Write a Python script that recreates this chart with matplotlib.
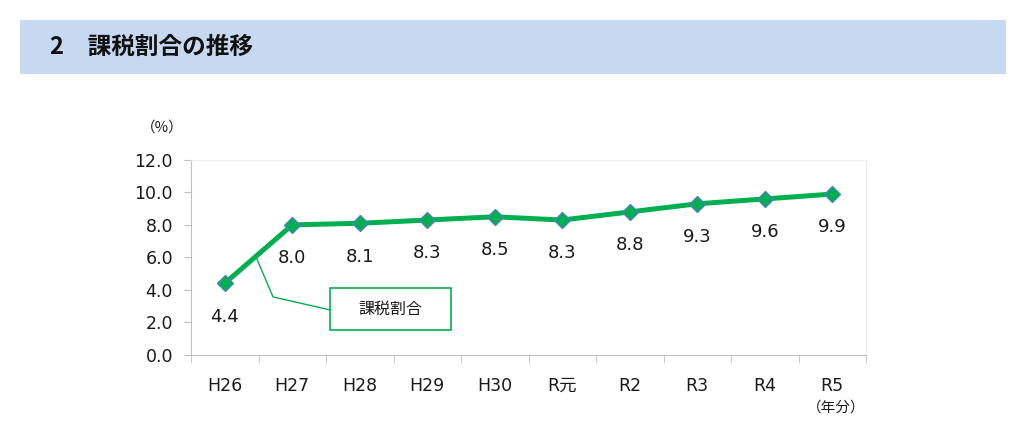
import numpy as np
import matplotlib
matplotlib.use('Agg')
import matplotlib.pyplot as plt
from matplotlib.patches import Rectangle

plt.rcParams['font.family'] = ['DejaVu Sans', 'Noto Sans CJK JP']

# data
years = ['H26', 'H27', 'H28', 'H29', 'H30', 'R元', 'R2', 'R3', 'R4', 'R5']
rate = [4.4, 8.0, 8.1, 8.3, 8.5, 8.3, 8.8, 9.3, 9.6, 9.9]
series_name = '課税割合'
title = '2\u3000課税割合の推移'

green = '#00b050'
W, H = 1024, 437

fig = plt.figure(figsize=(W / 100, H / 100), dpi=100)

# header band
band = fig.add_axes([20 / W, 1 - 74 / H, 986 / W, 54 / H])
band.set_facecolor('#c6d9f0')
band.set_xticks([]); band.set_yticks([])
for s in band.spines.values():
    s.set_visible(False)
band.text(30 / 986, 0.5, title, fontsize=17, fontweight='bold',
          family=['Noto Sans CJK JP'], va='center', ha='left', color='#111111')

# main plot
ax = fig.add_axes([191 / W, 82.3 / H, 675 / W, 194.7 / H])
x = np.arange(len(years))
ax.plot(x, rate, color=green, lw=3.6, marker='D', markersize=8.5,
        markerfacecolor=green, markeredgecolor='#4f81bd', markeredgewidth=1, zorder=3)

for xi, v in zip(x, rate):
    ax.annotate(f'{v:.1f}', (xi, v), xytext=(0, -24), textcoords='offset points',
                ha='center', va='center', fontsize=13, color='#1a1a1a')

ax.set_xlim(-0.5, len(years) - 0.5)
ax.set_ylim(0, 12)
ax.set_yticks(np.arange(0, 12.1, 2))
ax.set_yticklabels([f'{t:.1f}' for t in np.arange(0, 12.1, 2)])
ax.set_xticks(x)
ax.set_xticklabels(years)
ax.set_xticks(np.arange(-0.5, len(years)), minor=True)
ax.tick_params(axis='x', which='major', length=0, pad=16, labelsize=12.5, colors='#1a1a1a')
ax.tick_params(axis='x', which='minor', length=6, color='#bfbfbf')
ax.tick_params(axis='y', length=5, color='#bfbfbf', pad=8, labelsize=12.5, labelcolor='#1a1a1a')

for side in ['left', 'bottom']:
    ax.spines[side].set_color('#bfbfbf')
for side in ['top', 'right']:
    ax.spines[side].set_color('#eeeeee')

# callout
x0 = 0.46
y0 = np.interp(x0, x, rate)
ax.plot([x0, 0.715, 1.56], [y0, 3.56, 2.76], color=green, lw=1, zorder=2)
ax.add_patch(Rectangle((1.56, 1.52), 1.79, 2.59, fill=False, edgecolor=green, lw=1.2, zorder=2))
ax.text(1.56 + 1.79 / 2, 1.52 + 2.59 / 2, series_name, ha='center', va='center',
        fontsize=11.5, family=['Noto Sans CJK JP'], color='#1a1a1a')

fig.text(162 / W, 1 - 128 / H, '（%）', ha='center', va='center', fontsize=10.5,
         family=['Noto Sans CJK JP'], color='#1a1a1a')
fig.text(836 / W, 1 - 408 / H, '（年分）', ha='center', va='center', fontsize=10.5,
         family=['Noto Sans CJK JP'], color='#1a1a1a')

fig.savefig('out.png', dpi=100)
